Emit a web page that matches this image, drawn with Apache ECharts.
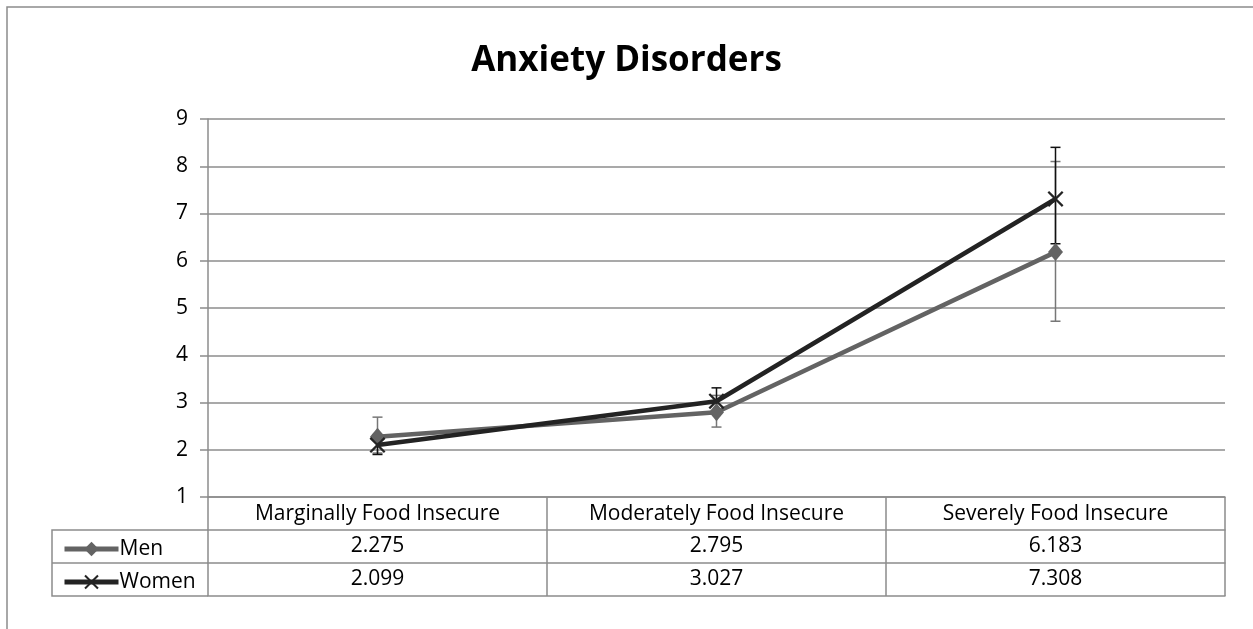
<!DOCTYPE html>
<html>
<head>
<meta charset="utf-8">
<script src="https://cdn.jsdelivr.net/npm/echarts@6/dist/echarts.min.js"></script>
<style>
  html, body { margin: 0; padding: 0; background: #fff; }
  #main { width: 1253px; height: 629px; }
</style>
</head>
<body>
<div id="main"></div>
<script>
// data
var categories = ["Marginally Food Insecure", "Moderately Food Insecure", "Severely Food Insecure"];
var menValues = [2.275, 2.795, 6.183];
var womenValues = [2.099, 3.027, 7.308];
// error bars [low, high]
var menErr = [[1.93, 2.69], [2.48, 3.15], [4.72, 8.1]];
var womenErr = [[1.9, 2.32], [2.77, 3.31], [6.36, 8.4]];
var yTicks = { min: 1, max: 9, interval: 1 };

var FONT = "'Open Sans', Lato, sans-serif";
var GRID = { left: 208, right: 28, top: 119, bottom: 132 };
var ROW = 33;
var MEN_COLOR = "#636363";
var WOMEN_COLOR = "#232323";
var LINE_GRAY = "#8c8c8c";
var CROSS = "path://M0,1L1,0L5,4L9,0L10,1L6,5L10,9L9,10L5,6L1,10L0,9L4,5Z";

function errData(err) {
    return err.map(function (d, i) { return [i, d[0], d[1]]; });
}

function errorBar(color) {
    return function (params, api) {
        var lo = api.coord([api.value(0), api.value(1)]);
        var hi = api.coord([api.value(0), api.value(2)]);
        var w = 5;
        var st = { stroke: color, lineWidth: 1.5 };
        return {
            type: "group",
            children: [
                { type: "line", shape: { x1: lo[0], y1: lo[1], x2: hi[0], y2: hi[1] }, style: st },
                { type: "line", shape: { x1: lo[0] - w, y1: lo[1], x2: lo[0] + w, y2: lo[1] }, style: st },
                { type: "line", shape: { x1: hi[0] - w, y1: hi[1], x2: hi[0] + w, y2: hi[1] }, style: st }
            ]
        };
    };
}

function tableAxis(offset, labels) {
    return {
        type: "category",
        gridIndex: 0,
        position: "bottom",
        offset: offset,
        data: categories,
        axisLine: { show: true, lineStyle: { color: LINE_GRAY, width: 1.5 } },
        axisTick: { show: false },
        axisLabel: {
            show: !!labels,
            margin: 6,
            color: "#000",
            fontFamily: FONT,
            fontSize: 21,
            formatter: function (v, i) { return labels ? String(labels[i]) : ""; }
        },
        splitLine: { show: false }
    };
}

var chart = echarts.init(document.getElementById("main"));
var option = {
    backgroundColor: "#fff",
    animation: false,
    title: {
        text: "Anxiety Disorders",
        left: "center",
        top: 39,
        textStyle: { fontFamily: FONT, fontSize: 35, fontWeight: "bold", color: "#000" }
    },
    legend: {
        orient: "vertical",
        left: 57,
        top: 531,
        itemWidth: 54,
        itemHeight: 18,
        itemGap: 7,
        data: ["Men", "Women"],
        lineStyle: { width: 5 },
        textStyle: { fontFamily: FONT, fontSize: 21, color: "#000", lineHeight: 26, padding: [0, 0, 0, -4] }
    },
    grid: GRID,
    xAxis: [
        {
            type: "category",
            data: categories,
            boundaryGap: true,
            axisLine: { show: true, lineStyle: { color: LINE_GRAY, width: 1.5 } },
            axisTick: { show: true, inside: false, length: ROW * 3, lineStyle: { color: LINE_GRAY, width: 1.5 } },
            axisLabel: { margin: 7, color: "#000", fontFamily: FONT, fontSize: 21, interval: 0 }
        },
        tableAxis(ROW, menValues),
        tableAxis(ROW * 2, womenValues),
        tableAxis(ROW * 3, null)
    ],
    yAxis: {
        type: "value",
        min: yTicks.min,
        max: yTicks.max,
        interval: yTicks.interval,
        axisLine: { show: true, lineStyle: { color: LINE_GRAY, width: 1.5 } },
        axisTick: { show: true, length: 8, lineStyle: { color: LINE_GRAY, width: 1.5 } },
        axisLabel: { margin: 20, color: "#000", fontFamily: FONT, fontSize: 21 },
        splitLine: { show: true, lineStyle: { color: LINE_GRAY, width: 1.5 } }
    },
    graphic: [
        // outer chart border
        { type: "rect", shape: { x: 7, y: 7, width: 1400, height: 800 }, style: { fill: null, stroke: LINE_GRAY, lineWidth: 1.5 }, z: 0 },
        // legend column of the data table
        { type: "polyline", shape: { points: [[GRID.left, 497 + ROW], [52, 497 + ROW], [52, 497 + ROW * 3], [GRID.left, 497 + ROW * 3]] }, style: { fill: null, stroke: LINE_GRAY, lineWidth: 1.5 } },
        { type: "line", shape: { x1: 52, y1: 497 + ROW * 2, x2: GRID.left, y2: 497 + ROW * 2 }, style: { stroke: LINE_GRAY, lineWidth: 1.5 } }
    ],
    series: [
        {
            name: "MenErr",
            type: "custom",
            renderItem: errorBar("#777777"),
            data: errData(menErr),
            z: 3
        },
        {
            name: "WomenErr",
            type: "custom",
            renderItem: errorBar("#111111"),
            data: errData(womenErr),
            z: 4
        },
        {
            name: "Men",
            type: "line",
            data: menValues,
            color: MEN_COLOR,
            symbol: "diamond",
            symbolSize: [15, 18],
            lineStyle: { width: 4.5, color: MEN_COLOR },
            itemStyle: { color: MEN_COLOR },
            z: 5
        },
        {
            name: "Women",
            type: "line",
            data: womenValues,
            color: WOMEN_COLOR,
            symbol: CROSS,
            symbolSize: 16,
            lineStyle: { width: 4.5, color: WOMEN_COLOR },
            itemStyle: { color: WOMEN_COLOR },
            z: 6
        }
    ]
};
chart.setOption(option);
</script>
</body>
</html>
